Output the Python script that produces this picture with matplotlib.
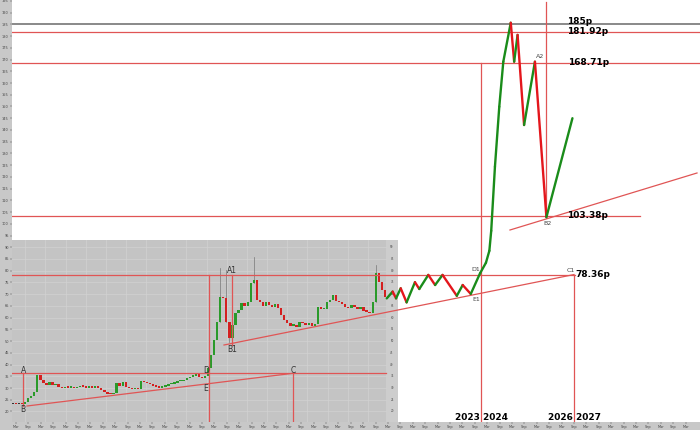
import matplotlib.pyplot as plt
from matplotlib.patches import Rectangle
import numpy as np

# projected path after the inset chart (year, price in pence)
path_year = [2020.96, 2021.15, 2021.26, 2021.41, 2021.60, 2021.87, 2022.01, 2022.30, 2022.52,
             2022.76, 2023.22, 2023.41, 2023.67, 2023.97, 2024.16, 2024.27, 2024.33, 2024.45,
             2024.59, 2024.72, 2024.96, 2025.07, 2025.18, 2025.39, 2025.74, 2026.11, 2026.95]
path_price = [68.2, 71.1, 68.2, 72.5, 66.5, 75.1, 72.2, 78.2, 73.9,
              78.2, 69.3, 73.9, 70.1, 78.9, 83.4, 88.5, 97.0, 124.3,
              149.9, 169.1, 185.7, 169.1, 180.5, 142.1, 169.1, 102.8, 145.0]

# inset candle closes (monthly), opens = previous close
closes = [23.3, 23.1, 23.2, 23.0,
          24.2, 25.6, 26.8, 28.4,
          35.5, 33.4,
          32.0, 31.4, 32.4, 31.2, 31.8,
          30.4, 30.0, 30.6, 30.2, 30.5, 29.8, 30.3, 30.9, 30.5, 30.1, 30.6, 30.2, 30.8,
          30.0, 29.0, 28.3, 27.6, 27.4, 27.9,
          32.1, 30.8, 32.4, 30.3,
          29.8, 29.4, 29.9, 29.5,
          33.0,
          32.4, 32.0, 31.5, 31.0, 30.6, 30.2,
          30.5, 31.0, 31.5, 31.8, 32.3, 32.8, 33.0, 33.6, 34.2, 34.8, 35.0,
          35.8, 34.6, 34.2, 35.2,
          38.5, 44.0, 50.5, 58.0, 68.8,
          68.4, 58.2, 51.3,
          56.9, 62.0, 63.2, 66.2, 64.8, 66.7,
          74.8, 76.0,
          67.5, 66.5, 65.0, 66.8, 65.2, 64.5, 66.0,
          64.0, 61.0, 59.0, 57.5,
          56.5, 57.0, 56.2, 58.0, 57.5, 56.8, 57.8, 56.5, 57.2,
          64.5, 63.5, 63.8, 66.7,
          67.5, 69.5, 67.0, 66.5, 66.0,
          64.5, 64.0, 65.5, 64.5, 63.5, 64.6, 63.0, 62.5, 61.8,
          66.7, 79.0, 75.2, 71.8, 68.8]
first_open = 23.2
wick_high = {68: 81.1, 70: 80.5, 79: 86.0, 119: 82.4}
wick_low = {71: 49.5}

# levels
top_level = 185.0
levels = [181.92, 168.71]
low_level = 103.38
c1_level = 78.36
ac_level = 36.27

fig = plt.figure(figsize=(7, 4.3), dpi=100, facecolor='#c8c8c8')
ax = fig.add_axes([12 / 700, 8 / 430, 688 / 700, 422 / 430])
ax.set_facecolor('white')
ax.set_xlim(2008.871, 2031.065)
ax.set_ylim(15.51, 195.39)
for s in ax.spines.values():
    s.set_visible(False)

red = '#e05555'
green_c = '#1a8c1a'
red_c = '#e4161c'

# inset screenshot background + grid
ax.add_patch(Rectangle((0, 0), 0.561, 0.4313, transform=ax.transAxes,
                       facecolor='#c4c4c4', edgecolor='none', zorder=1))
ax.add_patch(Rectangle((0.5436, 0), 0.561 - 0.5436, 0.4313, transform=ax.transAxes,
                       facecolor='#cdcdcd', edgecolor='none', zorder=1.1))
for g in np.arange(20, 93, 5):
    ax.plot([2008.871, 2020.935], [g, g], color='#d2d2d2', lw=0.5, zorder=1.2)
for g in np.arange(2009.3, 2020.9, 0.65):
    ax.plot([g, g], [15.51, 93.09], color='#d2d2d2', lw=0.5, zorder=1.2)
for g in np.arange(20, 93, 5):
    ax.text(2021.13, g, str(g), fontsize=2, color='#444', ha='center', va='center', zorder=1.3)

# candles
xs = np.linspace(2008.90, 2020.90, len(closes))
opens = [first_open] + closes[:-1]
for i, (x, o, c) in enumerate(zip(xs, opens, closes)):
    col = '#2a9a2a' if c >= o else '#d42020'
    lo, hi = min(o, c), max(o, c)
    if hi - lo < 0.15:
        col = '#333333'
    if hi - lo < 0.6:
        hi = lo + 0.6
    ax.bar(x, hi - lo, bottom=lo, width=0.075, color=col, zorder=2, linewidth=0)
    h = wick_high.get(i, hi)
    l = wick_low.get(i, lo)
    if h > hi or l < lo:
        ax.plot([x, x], [l, h], color='#777777', lw=0.5, zorder=1.9)

# horizontal levels
ax.axhline(top_level, color='#808080', lw=1.3, zorder=3)
for lv in levels:
    ax.axhline(lv, color=red, lw=0.9, zorder=3)
ax.plot([2008.871, 2029.13], [low_level, low_level], color=red, lw=0.9, zorder=3)
ax.plot([2008.871, 2027.03], [c1_level, c1_level], color=red, lw=0.9, zorder=3)
ax.plot([2008.871, 2020.935], [ac_level, ac_level], color=red, lw=0.9, zorder=3)

# vertical lines
ax.plot([2024.0, 2024.0], [168.71, 15.51], color=red, lw=0.9, zorder=3)
ax.plot([2026.10, 2026.10], [194.5, low_level], color=red, lw=0.9, zorder=3)
ax.plot([2027.0, 2027.0], [c1_level, 15.51], color=red, lw=0.9, zorder=3)
ax.plot([2015.226, 2015.226], [c1_level, 15.51], color=red, lw=0.9, zorder=3)
ax.plot([2015.952, 2015.952], [c1_level, 48.33], color=red, lw=0.9, zorder=3)
ax.plot([2017.935, 2017.935], [ac_level, 15.51], color=red, lw=0.9, zorder=3)
ax.plot([2009.216, 2009.216], [ac_level, 22.33], color=red, lw=0.9, zorder=3)

# trend lines
ax.plot([2009.355, 2017.935], [22.33, 36.27], color=red, lw=0.9, zorder=3)
ax.plot([2015.71, 2027.0], [48.33, 78.36], color=red, lw=0.9, zorder=3)
ax.plot([2024.935, 2030.968], [97.35, 121.65], color=red, lw=0.9, zorder=3)

# projected path
for i in range(len(path_year) - 1):
    col = green_c if path_price[i + 1] > path_price[i] else red_c
    ax.plot(path_year[i:i + 2], path_price[i:i + 2], color=col, lw=1.7,
            solid_capstyle='round', zorder=4)

# level labels
bold = dict(fontsize=6.5, fontweight='bold', color='black', va='center', zorder=5)
ax.text(2026.78, 186.3, '185p', **bold)
ax.text(2026.77, 181.92, '181.92p', **bold)
ax.text(2026.80, 168.71, '168.71p', **bold)
ax.text(2026.78, 103.38, '103.38p', **bold)
ax.text(2027.04, 78.36, '78.36p', **bold)
ax.text(2024.016, 17.4, '2023 2024', ha='center', **bold)
ax.text(2027.006, 17.6, '2026 2027', ha='center', **bold)

small = dict(fontsize=4.5, color='#444444', ha='center', va='center', zorder=5)
ax.text(2023.82, 80.7, 'D1', **small)
ax.text(2023.84, 67.9, 'E1', **small)
ax.text(2026.90, 79.9, 'C1', **small)
ax.text(2025.90, 171.5, 'A2', **small)
ax.text(2026.13, 100.3, 'B2', **small)

inset_lbl = dict(fontsize=5.5, color='#333333', ha='center', va='center', zorder=5)
ax.text(2015.952, 79.9, 'A1', **inset_lbl)
ax.text(2015.968, 46.6, 'B1', **inset_lbl)
ax.text(2009.235, 37.4, 'A', **inset_lbl)
ax.text(2009.235, 21.0, 'B', **inset_lbl)
ax.text(2015.129, 37.4, 'D', **inset_lbl)
ax.text(2015.129, 30.0, 'E', **inset_lbl)
ax.text(2017.945, 37.4, 'C', **inset_lbl)

# tiny axis labels in the grey strips
ax.set_yticks(np.arange(20, 196, 5))
ax.set_yticklabels([str(v) for v in np.arange(20, 196, 5)])
xt = np.arange(2009.0, 2031.0, 0.4)
ax.set_xticks(xt)
ax.set_xticklabels(['Mar' if i % 2 == 0 else 'Sep' for i in range(len(xt))])
ax.tick_params(axis='both', labelsize=2.5, length=1.5, width=0.3, pad=0.8,
               colors='#444444')

fig.savefig('out.png', dpi=100, facecolor=fig.get_facecolor())
